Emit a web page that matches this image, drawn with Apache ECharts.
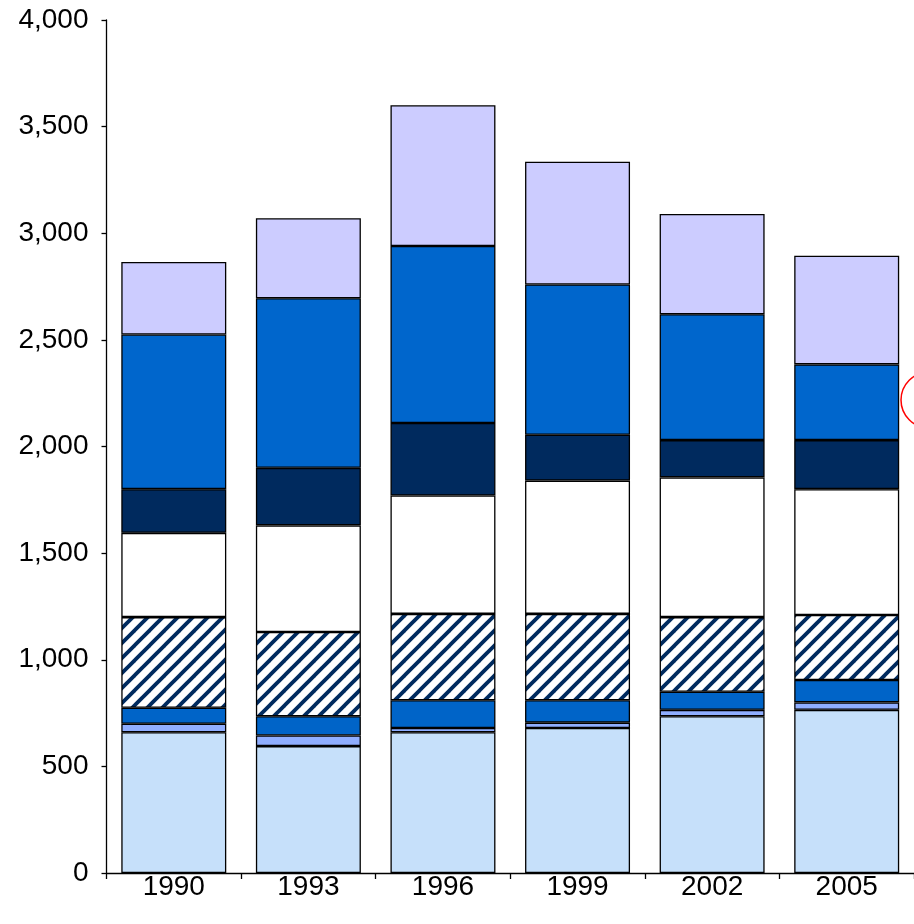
<!DOCTYPE html>
<html>
<head>
<meta charset="utf-8">
<style>
  html, body { margin: 0; padding: 0; background: #ffffff; }
  #chart { width: 914px; height: 924px; }
</style>
<script src="https://cdn.jsdelivr.net/npm/echarts@6/dist/echarts.min.js"></script>
</head>
<body>
<div id="chart"></div>
<script>
// Years on the category axis
const years = ['1990', '1993', '1996', '1999', '2002', '2005'];

// Stacked segments, listed from the bottom of each bar upward
const seg1 = [660, 595, 660, 680, 735, 765];
const seg2 = [40, 50, 20, 25, 30, 35];
const seg3 = [75, 90, 130, 105, 85, 105];
const seg4 = [425, 395, 405, 405, 350, 305];
const seg5 = [395, 500, 555, 625, 655, 590];
const seg6 = [205, 270, 340, 215, 175, 230];
const seg7 = [725, 795, 830, 705, 590, 355];
const seg8 = [340, 375, 660, 575, 470, 510];

// Value axis ticks
const yMin = 0;
const yMax = 4000;
const yStep = 500;

// Diagonal navy hatching on white for the fourth segment
function makeHatch() {
  const size = 15;
  const c = document.createElement('canvas');
  c.width = size;
  c.height = size;
  const g = c.getContext('2d');
  g.fillStyle = '#ffffff';
  g.fillRect(0, 0, size, size);
  g.strokeStyle = '#002B5F';
  g.lineWidth = 3.8;
  for (let o = -size; o <= size; o += size) {
    g.beginPath();
    g.moveTo(o - 2, size + 2);
    g.lineTo(o + size + 2, -2);
    g.stroke();
  }
  return c;
}

const fills = [
  '#C6E0FA',
  '#8FAEFF',
  '#0064C8',
  { image: makeHatch(), repeat: 'repeat' },
  '#FFFFFF',
  '#002A5E',
  '#0066CC',
  '#CCCCFF'
];
const stacks = [seg1, seg2, seg3, seg4, seg5, seg6, seg7, seg8];

const font = 'Liberation Sans, Arial, sans-serif';
const chart = echarts.init(document.getElementById('chart'), null, { renderer: 'canvas' });

chart.setOption({
  animation: false,
  backgroundColor: '#ffffff',
  textStyle: { fontFamily: font },
  grid: { left: 106.5, right: -6, top: 20, bottom: 51, containLabel: false },
  xAxis: {
    type: 'category',
    data: years,
    boundaryGap: true,
    axisLine: { show: true, lineStyle: { color: '#000000', width: 1.3 } },
    axisTick: { show: true, length: 6, inside: false, alignWithLabel: false, lineStyle: { color: '#000000', width: 1.3 } },
    axisLabel: { color: '#000000', fontSize: 28, margin: 0, fontFamily: font },
    splitLine: { show: false }
  },
  yAxis: {
    type: 'value',
    min: yMin,
    max: yMax,
    interval: yStep,
    axisLine: { show: true, lineStyle: { color: '#000000', width: 1.3 } },
    axisTick: { show: true, length: 5, inside: false, lineStyle: { color: '#000000', width: 1.3 } },
    axisLabel: {
      color: '#000000',
      fontSize: 28,
      margin: 18,
      fontFamily: font,
      formatter: v => v.toLocaleString('en-US')
    },
    splitLine: { show: false }
  },
  series: stacks.map((d, i) => ({
    type: 'bar',
    stack: 'total',
    data: d,
    barCategoryGap: '22%',
    itemStyle: { color: fills[i], borderColor: '#000000', borderWidth: 1.3 },
    emphasis: { disabled: true }
  })),
  graphic: [{
    type: 'circle',
    shape: { cx: 929, cy: 400, r: 28 },
    style: { fill: 'none', stroke: '#FF0000', lineWidth: 1.5 },
    z: 100
  }]
});
</script>
</body>
</html>
